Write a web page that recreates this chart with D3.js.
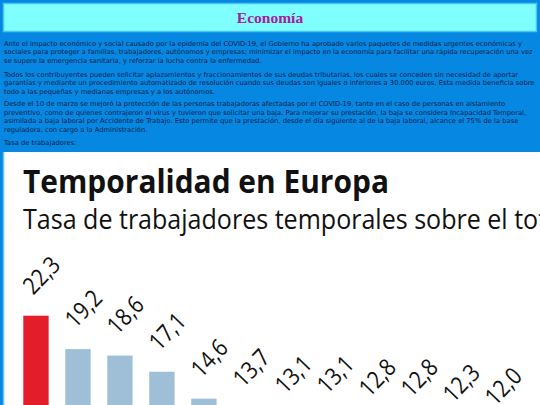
<!DOCTYPE html>
<html>
<head>
<meta charset="utf-8">
<script src="https://cdn.jsdelivr.net/npm/d3@7"></script>
<style>
html,body{margin:0;padding:0;background:#0587e2;overflow:hidden;}
svg{display:block;}
</style>
</head>
<body>
<svg id="c" width="540" height="405"></svg>
<script>
// ---- data ----
const categories = ["España","Países Bajos","Polonia","Portugal","Italia","Francia","Croacia","Suecia","Finlandia","Chipre","Eslovenia","Grecia"];
const values = [22.3,19.2,18.6,17.1,14.6,13.7,13.1,13.1,12.8,12.8,12.3,12.0];
const highlight = ["España"];
const labels = ["22,3","19,2","18,6","17,1","14,6","13,7","13,1","13,1","12,8","12,8","12,3","12,0"];
const pageTitle = "Economía";
const chartTitle = "Temporalidad en Europa";
const chartSubtitle = "Tasa de trabajadores temporales sobre el total de asalariados (%)";
const paragraphs = [
 ["Ante el impacto económico y social causado por la epidemia del COVID-19, el Gobierno ha aprobado varios paquetes de medidas urgentes económicas y",
  "sociales para proteger a familias, trabajadores, autónomos y empresas; minimizar el impacto en la economía para facilitar una rápida recuperación una vez",
  "se supere la emergencia sanitaria, y reforzar la lucha contra la enfermedad."],
 ["Todos los contribuyentes pueden solicitar aplazamientos y fraccionamientos de sus deudas tributarias, los cuales se conceden sin necesidad de aportar",
  "garantías y mediante un procedimiento automatizado de resolución cuando sus deudas son iguales o inferiores a 30.000 euros. Esta medida beneficia sobre",
  "todo a las pequeñas y medianas empresas y a los autónomos."],
 ["Desde el 10 de marzo se mejoró la protección de las personas trabajadoras afectadas por el COVID-19, tanto en el caso de personas en aislamiento",
  "preventivo, como de quienes contrajeron el virus y tuvieron que solicitar una baja. Para mejorar su prestación, la baja se considera Incapacidad Temporal,",
  "asimilada a baja laboral por Accidente de Trabajo. Esto permite que la prestación, desde el día siguiente al de la baja laboral, alcance el 75% de la base",
  "reguladora, con cargo a la Administración."],
 ["Tasa de trabajadores:"]
];

const svg = d3.select("#c");

// header box
svg.append("rect").attr("x",3.5).attr("y",3.5).attr("width",533).attr("height",28)
  .attr("fill","#80ffff").attr("stroke","#45c6f5").attr("stroke-width",1.5);
svg.append("text").attr("x",270).attr("y",23).attr("text-anchor","middle")
  .attr("font-family","Liberation Serif, serif").attr("font-weight","bold")
  .attr("font-size",15.5).attr("fill","#a4209c").text(pageTitle);

// paragraphs
const pStarts = [45.5, 76.6, 105.9, 145.3];
const lh = 8.6;
const textG = svg.append("g").attr("font-family","DejaVu Sans, Verdana, sans-serif").attr("fill","#0b1e48");
let fs = 7;
const probe = textG.append("text").attr("font-size",fs).text(paragraphs[0][1]);
const w = probe.node().getComputedTextLength();
probe.remove();
fs = fs * 529 / w;
paragraphs.forEach((p,pi)=>{
  p.forEach((line,li)=>{
    const tx = textG.append("text").attr("x",4).attr("y",pStarts[pi]+li*lh)
      .attr("font-size",fs).text(line);
    if (pi===0 && li===0) tx.attr("textLength",518).attr("lengthAdjust","spacing");
  });
});

// white chart box
svg.append("rect").attr("x",3).attr("y",152).attr("width",540).attr("height",260).attr("fill","#ffffff");
svg.append("line").attr("x1",3.5).attr("x2",3.5).attr("y1",152).attr("y2",405)
  .attr("stroke","#5ec6f2").attr("stroke-width",1.5);

const chart = svg.append("g");
const fam = "Open Sans, Noto Sans, sans-serif";

// title
const t = chart.append("text").attr("font-family",fam).attr("font-weight","bold")
  .attr("font-size",32).attr("fill","#111").text(chartTitle);
const tw = t.node().getComputedTextLength();
t.attr("transform",`translate(23,193) scale(${366/tw},1)`);

// subtitle
const prefix = "Tasa de trabajadores temporales sobre el ";
const sp = chart.append("text").attr("font-family",fam).attr("font-size",27).text(prefix);
const pw = sp.node().getComputedTextLength();
sp.remove();
chart.append("text").attr("font-family",fam).attr("font-size",27).attr("fill","#111")
  .attr("transform",`translate(23,228.5) scale(${485/pw},1)`).text(chartSubtitle);

// scales
const step = 40.6, bw = 24.5;
const x = d3.scaleBand().domain(categories)
  .range([23.3, 23.3 + step*categories.length]).paddingInner(1 - bw/step).paddingOuter(0).align(0);
const y = d3.scaleLinear().domain([0, 22.3]).range([556, 315.7]);

chart.selectAll("rect.bar").data(categories).join("rect")
  .attr("class","bar")
  .attr("x", d=>x(d))
  .attr("y", (d,i)=>y(values[i]))
  .attr("width", x.bandwidth())
  .attr("height", (d,i)=>y(0)-y(values[i]))
  .attr("fill", d=>highlight.includes(d) ? "#e41d2b" : "#9ebfd6");

chart.selectAll("text.lbl").data(categories).join("text")
  .attr("class","lbl")
  .attr("font-family",fam).attr("font-size",24).attr("fill","#111")
  .attr("transform",(d,i)=>`translate(${x(d)+10},${y(values[i])-20}) rotate(-46) scale(0.86,1)`)
  .text((d,i)=>labels[i]);
</script>
</body>
</html>
